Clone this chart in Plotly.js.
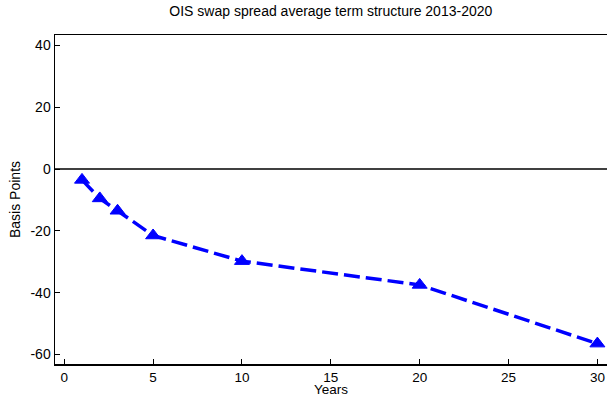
<!DOCTYPE html>
<html>
<head>
<meta charset="utf-8">
<script src="https://cdn.plot.ly/plotly-3.0.1.min.js"></script>
<style>html,body{margin:0;padding:0;background:#fff;}#chart{width:607px;height:396px;}</style>
</head>
<body>
<div id="chart"></div>
<script>
var maturities = [1, 2, 3, 5, 10, 20, 30];
var spreadBp = [-3.5, -9.5, -13.5, -21.5, -29.8, -37.5, -56.5];
var xTicks = [0, 5, 10, 15, 20, 25, 30];
var yTicks = [-60, -40, -20, 0, 20, 40];

var font = {family: 'Liberation Sans, Arial, sans-serif', size: 14, color: '#000'};
var xFont = {family: font.family, size: 13.5, color: '#000'};

var trace = {
  x: maturities,
  y: spreadBp,
  mode: 'lines+markers',
  type: 'scatter',
  line: {color: '#0000ff', width: 3.5, dash: '16px,6px'},
  marker: {symbol: 'triangle-up', size: 13, color: '#0000ff', line: {color: '#0000ff', width: 1}},
  cliponaxis: false,
  hoverinfo: 'skip'
};

var layout = {
  width: 607, height: 396,
  margin: {l: 55, r: 0, t: 35, b: 32},
  paper_bgcolor: '#fff', plot_bgcolor: '#fff',
  font: font,
  showlegend: false,
  title: {text: 'OIS swap spread average term structure 2013-2020', font: {family: font.family, size: 14, color: '#000'}, x: 0.545, xanchor: 'center', y: 0.985, yanchor: 'top'},
  xaxis: {
    range: [-0.52, 30.54], tickvals: xTicks, ticktext: xTicks.map(String),
    ticks: 'inside', ticklen: 5, tickcolor: '#000', tickwidth: 1,
    showline: true, linecolor: '#000', linewidth: 1.5, mirror: true,
    showgrid: false, zeroline: false,
    tickfont: xFont
  },
  yaxis: {
    range: [-63.1, 43.4], tickvals: yTicks, ticktext: yTicks.map(String),
    ticks: 'inside', ticklen: 5, tickcolor: '#000', tickwidth: 1,
    showline: true, linecolor: '#000', linewidth: 1.5,
    showgrid: false, zeroline: true, zerolinecolor: '#404040', zerolinewidth: 2,
    title: {text: 'Basis Points', font: font, standoff: 6},
    tickfont: font
  },
  annotations: [{
    text: 'Years', xref: 'paper', yref: 'paper', x: 0.5, xanchor: 'center',
    y: -0.0973, yanchor: 'bottom', yshift: -2, borderpad: 0, showarrow: false, font: xFont
  }]
};

Plotly.newPlot('chart', [trace], layout, {staticPlot: true, displayModeBar: false});
</script>
</body>
</html>
